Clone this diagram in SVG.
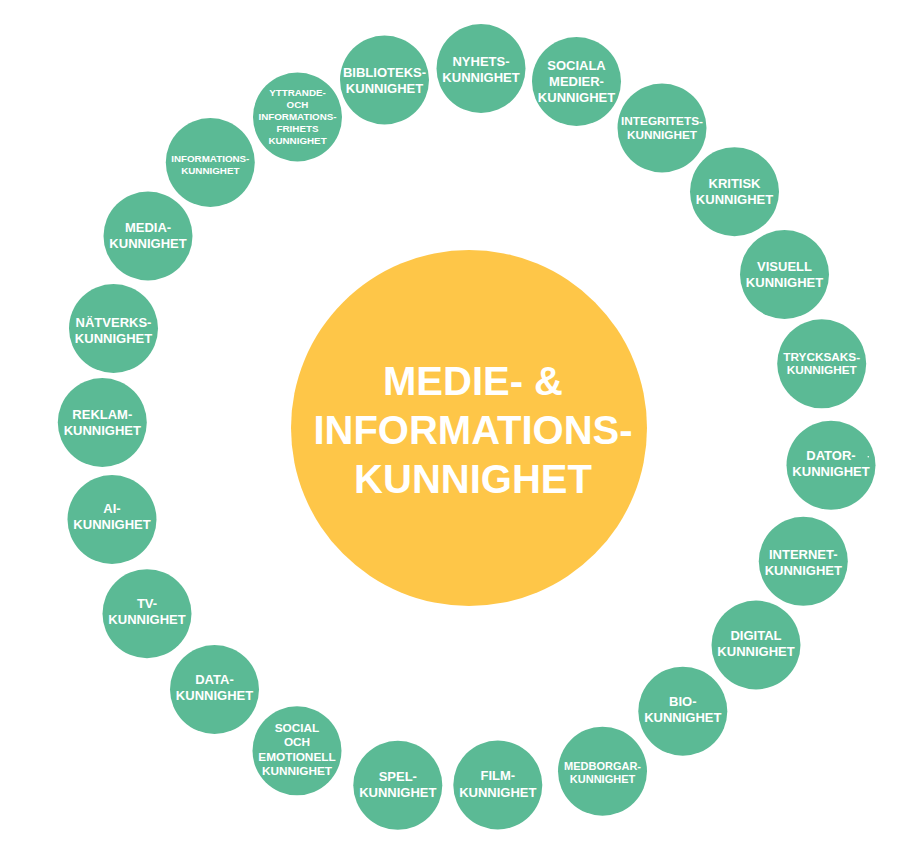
<svg xmlns="http://www.w3.org/2000/svg" width="910" height="857" viewBox="0 0 910 857">
<style>
.n{fill:#5BBA95}
.t{fill:#fff;font-family:"Liberation Sans",Arial,sans-serif;font-weight:bold;text-anchor:middle}
.a{font-size:13px}
.b{font-size:11.8px}
.c{font-size:11px}
.d{font-size:9.8px}
.hub{fill:#FEC648}
.ht{font-size:40px}
</style>
<rect width="910" height="857" fill="#fff"/>
<g id="connectors"></g>
<g id="center">
<circle class="hub" cx="469" cy="428" r="178"/>
<text class="t ht" x="473" y="395">MEDIE- &amp;</text>
<text class="t ht" x="473" y="444">INFORMATIONS-</text>
<text class="t ht" x="473" y="493">KUNNIGHET</text>
</g>
<g id="nyhets"><circle class="n" cx="481" cy="68.5" r="44.5"/><text class="t a" x="481" y="65.7">NYHETS-</text><text class="t a" x="481" y="81.7">KUNNIGHET</text></g>
<g id="sociala"><circle class="n" cx="576.5" cy="81.5" r="44.5"/><text class="t a" x="576.5" y="70">SOCIALA</text><text class="t a" x="576.5" y="86">MEDIER-</text><text class="t a" x="576.5" y="101.5">KUNNIGHET</text></g>
<g id="integritets"><circle class="n" cx="662" cy="128" r="44.5"/><text class="t b" x="662" y="125.3">INTEGRITETS-</text><text class="t b" x="662" y="139.3">KUNNIGHET</text></g>
<g id="kritisk"><circle class="n" cx="734.5" cy="191.7" r="44.5"/><text class="t a" x="734.5" y="188.3">KRITISK</text><text class="t a" x="734.5" y="204.3">KUNNIGHET</text></g>
<g id="visuell"><circle class="n" cx="784.5" cy="274.5" r="44.5"/><text class="t a" x="784.5" y="271">VISUELL</text><text class="t a" x="784.5" y="287">KUNNIGHET</text></g>
<g id="trycksaks"><circle class="n" cx="821.7" cy="363.8" r="44.5"/><text class="t b" x="821.7" y="361">TRYCKSAKS-</text><text class="t b" x="821.7" y="374.3">KUNNIGHET</text></g>
<g id="dator"><circle class="n" cx="831" cy="465.3" r="44.5"/><text class="t a" x="831" y="460">DATOR-</text><text class="t a" x="831" y="476">KUNNIGHET</text><circle cx="868.3" cy="456.7" r="0.8" fill="#fff"/></g>
<g id="internet"><circle class="n" cx="803.3" cy="561.3" r="44.5"/><text class="t a" x="803.3" y="558.7">INTERNET-</text><text class="t a" x="803.3" y="575">KUNNIGHET</text></g>
<g id="digital"><circle class="n" cx="756" cy="645" r="44.5"/><text class="t a" x="756" y="640">DIGITAL</text><text class="t a" x="756" y="656">KUNNIGHET</text></g>
<g id="bio"><circle class="n" cx="682.8" cy="711.2" r="44.5"/><text class="t a" x="682.8" y="706">BIO-</text><text class="t a" x="682.8" y="722">KUNNIGHET</text></g>
<g id="medborgar"><circle class="n" cx="602.5" cy="771.2" r="44.5"/><text class="t c" x="602.5" y="770">MEDBORGAR-</text><text class="t c" x="602.5" y="782.7">KUNNIGHET</text></g>
<g id="film"><circle class="n" cx="497.8" cy="785" r="44.5"/><text class="t a" x="497.8" y="780.3">FILM-</text><text class="t a" x="497.8" y="796.7">KUNNIGHET</text></g>
<g id="spel"><circle class="n" cx="397.8" cy="785.3" r="44.5"/><text class="t a" x="397.8" y="781.3">SPEL-</text><text class="t a" x="397.8" y="797.3">KUNNIGHET</text></g>
<g id="social"><circle class="n" cx="297" cy="750.8" r="44.5"/><text class="t b" x="297" y="732.3">SOCIAL</text><text class="t b" x="297" y="746.3">OCH</text><text class="t b" x="297" y="761">EMOTIONELL</text><text class="t b" x="297" y="775.3">KUNNIGHET</text></g>
<g id="data"><circle class="n" cx="214.5" cy="689.5" r="44.5"/><text class="t a" x="214.5" y="684.3">DATA-</text><text class="t a" x="214.5" y="700">KUNNIGHET</text></g>
<g id="tv"><circle class="n" cx="147" cy="613.7" r="44.5"/><text class="t a" x="147" y="608.3">TV-</text><text class="t a" x="147" y="624">KUNNIGHET</text></g>
<g id="ai"><circle class="n" cx="112" cy="519.5" r="44.5"/><text class="t a" x="112" y="513.3">AI-</text><text class="t a" x="112" y="529">KUNNIGHET</text></g>
<g id="reklam"><circle class="n" cx="102.3" cy="422.5" r="44.5"/><text class="t a" x="102.3" y="419.3">REKLAM-</text><text class="t a" x="102.3" y="435">KUNNIGHET</text></g>
<g id="natverks"><circle class="n" cx="113.5" cy="328.5" r="44.5"/><text class="t a" x="113.5" y="327.3">NÄTVERKS-</text><text class="t a" x="113.5" y="343.3">KUNNIGHET</text></g>
<g id="media"><circle class="n" cx="148" cy="236" r="44.5"/><text class="t a" x="148" y="232.3">MEDIA-</text><text class="t a" x="148" y="248.3">KUNNIGHET</text></g>
<g id="informations"><circle class="n" cx="210.3" cy="162.5" r="44.5"/><text class="t d" x="210.3" y="162.3">INFORMATIONS-</text><text class="t d" x="210.3" y="174.3">KUNNIGHET</text></g>
<g id="yttrande"><circle class="n" cx="297.5" cy="117" r="44.5"/><text class="t d" x="297.5" y="96">YTTRANDE-</text><text class="t d" x="297.5" y="108">OCH</text><text class="t d" x="297.5" y="120">INFORMATIONS-</text><text class="t d" x="297.5" y="132">FRIHETS</text><text class="t d" x="297.5" y="144">KUNNIGHET</text></g>
<g id="biblioteks"><circle class="n" cx="384.5" cy="80" r="44.5"/><text class="t a" x="384.5" y="77.3">BIBLIOTEKS-</text><text class="t a" x="384.5" y="93.3">KUNNIGHET</text></g>
</svg>
